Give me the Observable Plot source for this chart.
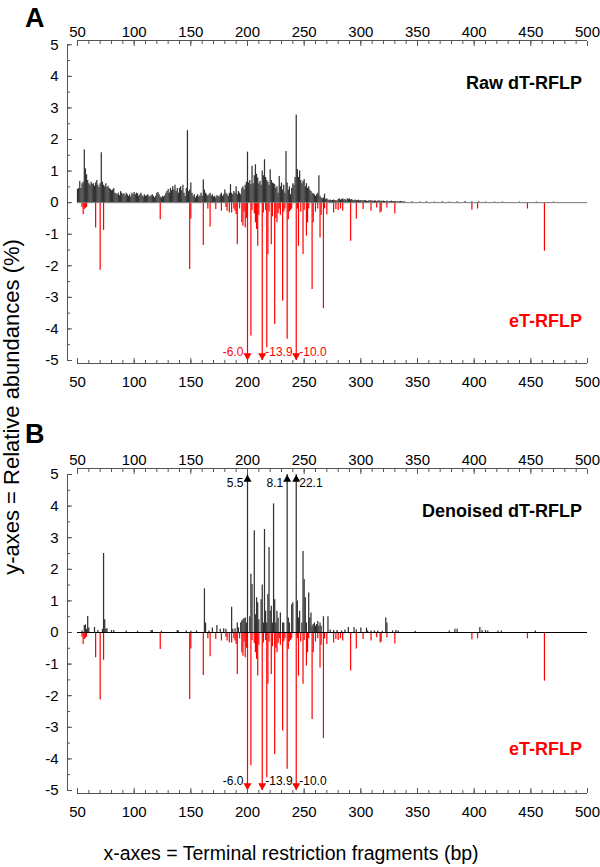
<!DOCTYPE html>
<html><head><meta charset="utf-8">
<script src="https://cdn.jsdelivr.net/npm/d3@7"></script>
<script src="https://cdn.jsdelivr.net/npm/@observablehq/plot@0.6"></script>
<style>
body{margin:0;background:#fff;}
#root{position:relative;width:600px;height:867px;overflow:hidden;font-family:"Liberation Sans",Arial,sans-serif;}
#root > svg{position:absolute;left:0;}
</style></head><body><div id="root"></div>
<script>
// ---------- DATA ----------
// x-axis tick labels (bp)
const xTickLabels = [50, 100, 150, 200, 250, 300, 350, 400, 450, 500];
const xMinorTicks = d3.range(50, 501, 10);
const yTickLabels = [-5, -4, -3, -2, -1, 0, 1, 2, 3, 4, 5];
const yMinorTicks = d3.range(-5, 5.01, 0.5);

// Raw dT-RFLP relative abundances (%), one value per bp starting at rawStartBp
const rawStartBp = 50;
const rawValues = [
  0.42,0.45,0.67,0.45,0.6,0.65,1.67,1.07,0.88,0.7,
  0.6,0.55,0.65,0.58,0.6,0.52,0.62,0.7,0.55,0.48,
  0.6,1.58,0.65,0.55,0.5,0.6,0.48,0.52,0.45,0.42,
  0.38,0.4,0.45,0.3,0.28,0.25,0.3,0.22,0.35,0.3,
  0.25,0.28,0.22,0.3,0.25,0.2,0.25,0.18,0.3,0.25,
  0.32,0.25,0.3,0.28,0.2,0.25,0.3,0.22,0.18,0.25,
  0.2,0.22,0.25,0.2,0.18,0.22,0.25,0.2,0.15,0.2,
  0.3,0.32,0.25,0.18,0.15,0.2,0.18,0.22,0.3,0.35,
  0.42,0.3,0.45,0.38,0.5,0.4,0.55,0.35,0.45,0.3,
  0.45,0.5,0.38,0.55,0.3,0.2,0.45,2.28,0.35,0.4,
  0.62,0.3,0.2,0.25,0.15,0.2,0.25,0.18,0.22,0.3,
  0.2,0.72,0.4,0.3,0.25,0.2,0.25,0.3,0.2,0.25,
  0.18,0.2,0.15,0.22,0.2,0.18,0.25,0.3,0.2,0.25,
  0.4,0.3,0.25,0.2,0.3,0.57,0.3,0.25,0.35,0.3,
  0.5,0.25,0.35,0.3,0.25,0.45,0.5,0.4,0.55,0.65,
  1.6,0.62,0.7,0.57,1.15,0.6,0.85,1.2,0.9,0.78,
  0.6,0.67,0.55,1.0,0.85,1.36,0.8,0.7,0.65,0.55,
  1.04,0.7,0.62,0.6,0.57,0.45,0.5,0.3,0.83,0.5,
  0.62,0.4,0.55,0.3,1.62,0.62,0.4,0.5,0.25,0.45,
  0.6,0.55,0.8,2.78,1.05,0.8,1.0,0.7,0.6,0.67,
  0.73,0.5,0.6,0.45,0.5,0.4,0.35,0.3,0.28,0.25,
  0.2,0.25,0.3,0.85,0.2,0.15,0.12,0.15,0.27,0.1,
  0.12,0.08,0.07,0.08,0.06,0.07,0.08,0.06,0.07,0.05,
  0.1,0.12,0.08,0.1,0.12,0.08,0.1,0.07,0.12,0.1,
  0.12,0.08,0.1,0.07,0.06,0.08,0.07,0.06,0.08,0.05,
  0.07,0.06,0.05,0.07,0.06,0.05,0.04,0.06,0.05,0.07,
  0.05,0.04,0.06,0.05,0.04,0.05,0.06,0.04,0.05,0.04,
  0.05,0.04,0.03,0.05,0.04,0.03,0.04,0.05,0.03,0.04,
  0.03,0.04,0.03,0.02,0.03,0.04,0.03,0.02,0.03,0.02
];
const rawTailBp  = [345, 352, 358, 365, 372, 378, 385, 392, 398, 404, 410, 418, 425, 440, 455, 470];
const rawTailVal = [0.03,0.02,0.03,0.02,0.03,0.02,0.03,0.04,0.03,0.03,0.02,0.02,0.02,0.02,0.02,0.02];

// eT-RFLP (plotted downward, same in both panels)
const etBp = [54,55,56,57,58,66,70,73,123,149,150,161,165,167,172,177,
  181,182,184,186,188,189,190,191,193,195,196,197,198,199,
  200,203,204,206,207,208,209,210,213,214,216,217,218,219,221,222,224,225,226,227,228,229,231,232,233,235,236,237,238,239,
  243,244,245,247,249,250,252,253,254,257,258,260,262,264,265,267,268,270,
  276,278,280,282,284,291,296,302,309,314,317,318,323,330,398,403,447,462];
const etVal = [-0.15,-0.38,-0.22,-0.18,-0.15,-0.8,-2.14,-0.88,-0.54,-2.12,-0.52,-1.36,-0.2,-0.77,-0.22,-0.27,
  -0.15,-0.27,-0.33,-0.33,-0.2,-0.27,-0.38,-1.33,-0.2,-0.64,-0.75,-0.3,-0.8,-0.5,
  -6.0,-4.22,-0.25,-0.35,-0.64,-0.85,-1.38,-0.4,-13.9,-0.33,-0.25,-4.6,-1.64,-0.3,-1.33,-0.45,-3.86,-0.5,-0.64,-0.35,-0.2,-0.4,-3.12,-0.3,-0.2,-4.33,-0.54,-0.3,-0.25,-0.2,
  -10.0,-0.2,-1.38,-0.3,-1.64,-0.25,-1.06,-0.64,-0.2,-2.75,-0.64,-0.3,-0.2,-1.12,-0.4,-3.36,-0.2,-0.38,
  -0.33,-0.22,-0.25,-0.2,-0.27,-1.22,-0.52,-0.22,-0.27,-0.17,-0.33,-0.3,-0.17,-0.36,-0.24,-0.2,-0.2,-1.54];

// Denoised dT-RFLP
const dnBp = [54,56,57,58,59,60,65,68,72,73,74,75,76,80,82,93,103,115,116,124,138,139,146,150,155,
  162,163,166,169,173,176,179,181,186,187,189,191,192,194,195,196,197,198,199,
  200,202,203,204,206,207,208,209,210,212,213,214,215,216,217,218,219,220,221,222,223,224,225,226,227,229,231,232,
  235,236,237,239,240,243,244,245,246,248,249,250,251,252,254,255,256,257,258,259,260,261,262,263,264,265,267,271,
  273,276,279,283,286,289,294,296,300,305,306,309,312,315,319,322,323,328,331,333,348,378,383,385,405,407,410,412,421,424,454];
const dnVal = [0.05,0.22,0.24,0.1,0.51,0.14,0.16,0.06,0.1,2.5,0.4,0.1,0.12,0.06,0.06,0.05,0.04,0.06,0.06,0.04,0.06,0.05,0.05,0.04,0.05,
  1.38,0.3,0.05,0.14,0.22,0.1,0.12,0.1,0.8,0.1,0.12,0.3,0.15,0.3,0.37,0.4,0.44,0.46,0.3,
  5.5,0.5,1.84,1.52,3.22,0.56,1.1,0.94,0.4,1.04,1.5,0.3,3.26,0.67,0.3,1.2,2.69,0.67,0.83,0.3,4.07,1.04,0.3,0.67,0.45,0.62,0.3,0.3,
  8.1,0.46,0.3,0.88,0.94,22.1,1.0,0.46,0.67,0.3,2.56,1.68,1.1,0.3,1.25,0.46,0.62,0.2,0.25,0.3,0.2,0.25,0.35,0.2,0.3,0.2,0.5,0.5,
  0.08,0.06,0.06,0.05,0.08,0.16,0.16,0.08,0.14,0.14,0.05,0.05,0.05,0.05,0.04,0.46,0.3,0.05,0.06,0.05,0.04,0.05,0.1,0.1,0.16,0.06,0.06,0.05,0.05,0.05,0.05];

// ---------- BUILD ----------
const raw = rawValues.map((v, i) => ({bp: rawStartBp + i, v}))
  .concat(rawTailBp.map((bp, i) => ({bp, v: rawTailVal[i]})));
const et = etBp.map((bp, i) => ({bp, v: etVal[i]}));
const dn = dnBp.map((bp, i) => ({bp, v: dnVal[i]}));

const FONT = "Liberation Sans, Arial, Helvetica, sans-serif";
const RED = "#ff0000";
const xDomain = [41.18, 500];
const clamp = v => Math.max(-5, Math.min(5, v));

function panel(black, red, yMax, marginBottom, baseColor, labelColor, leftLabels) {
  const yDomain = [-5.095, yMax];
  const clippedB = black.filter(d => Math.abs(d.v) > 5);
  const clippedR = red.filter(d => Math.abs(d.v) > 5);
  const clippedAll = clippedB.map(d => ({...d, col: "#000"})).concat(clippedR.map(d => ({...d, col: RED})));
  const up = clippedAll.filter(d => d.v > 0), down = clippedAll.filter(d => d.v < 0);
  const lbl = clippedAll.filter(d => leftLabels.includes(d.bp)), lbr = clippedAll.filter(d => !leftLabels.includes(d.bp));
  const lblY = d => Math.sign(d.v) * 4.72;
  const axisStyle = {stroke: "#555", fill: "#000"};
  return Plot.plot({
    width: 600, height: 400,
    marginTop: 40, marginBottom, marginLeft: 67, marginRight: 13,
    x: {domain: xDomain, label: null},
    y: {domain: yDomain, label: null},
    style: {fontFamily: FONT, fontSize: "15px", background: "transparent", overflow: "visible"},
    marks: [
      Plot.ruleX(red, {x: "bp", y1: 0, y2: d => clamp(d.v), stroke: RED, strokeWidth: 1.2}),
      Plot.ruleX(black, {x: "bp", y1: 0, y2: d => clamp(d.v), stroke: "#333", strokeWidth: 1.25}),
      Plot.ruleY([0], {x1: 50, x2: 500, stroke: baseColor, strokeWidth: 1}),
      Plot.dot(up, {x: "bp", y: 5, symbol: "triangle", r: 3, fill: "col", stroke: null, dy: 5}),
      Plot.dot(down, {x: "bp", y: -5, symbol: "triangle", r: 3, fill: "col", stroke: null, rotate: 180, dy: -5}),
      Plot.text(lbl, {x: "bp", y: lblY, text: d => d.v.toFixed(1), textAnchor: "end", dx: -4, fill: labelColor, fontSize: 12, lineAnchor: "middle"}),
      Plot.text(lbr, {x: "bp", y: lblY, text: d => d.v.toFixed(1), textAnchor: "start", dx: 3, fill: labelColor, fontSize: 12, lineAnchor: "middle"}),
      // axis lines
      Plot.ruleY([yDomain[1]], {x1: 50, x2: 500, stroke: "#555"}),
      Plot.ruleY([yDomain[0]], {x1: 50, x2: 500, stroke: "#555"}),
      Plot.ruleX([xDomain[0]], {y1: -5, y2: 5, stroke: "#555"}),
      Plot.axisX(xTickLabels, {anchor: "top", tickSize: -5, tickPadding: 9, tickFormat: d => String(d), label: null, ...axisStyle}),
      Plot.axisX(xMinorTicks, {anchor: "top", tickSize: -3, tickFormat: () => "", label: null, ...axisStyle}),
      Plot.axisX(xTickLabels, {anchor: "bottom", tickSize: -5, tickPadding: 18, tickFormat: d => String(d), label: null, ...axisStyle}),
      Plot.axisX(xMinorTicks, {anchor: "bottom", tickSize: -3, tickFormat: () => "", label: null, ...axisStyle}),
      Plot.axisY(yTickLabels, {anchor: "left", tickSize: -5, tickPadding: 14, tickFormat: d => String(d), label: null, ...axisStyle}),
      Plot.axisY(yMinorTicks, {anchor: "left", tickSize: -3, tickFormat: () => "", label: null, ...axisStyle})
    ]
  });
}

const root = document.getElementById("root");
const pA = panel(raw, et, 5.136, 37, "#777", RED, [200]);
pA.style.top = "0px";
root.appendChild(pA);
const pB = panel(dn, et, 5.19, 35, "#000", "#000", [200, 235]);
pB.style.top = "428px";
root.appendChild(pB);

// Annotation overlay (titles, panel letters, axis titles)
const ov = d3.create("svg").attr("width", 600).attr("height", 867)
  .style("top", "0px").style("pointer-events", "none").style("font-family", FONT);
const txt = (s, x, y, size, weight, fill, anchor) => ov.append("text").text(s)
  .attr("x", x).attr("y", y).attr("font-size", size).attr("font-weight", weight)
  .attr("fill", fill).attr("text-anchor", anchor);
txt("A", 25, 27, 27, "bold", "#000", "start");
txt("B", 25, 443, 27, "bold", "#000", "start");
txt("Raw dT-RFLP", 582, 89, 18, "bold", "#000", "end");
txt("eT-RFLP", 582, 327, 18, "bold", RED, "end");
txt("Denoised dT-RFLP", 582, 517, 18, "bold", "#000", "end");
txt("eT-RFLP", 582, 755, 18, "bold", RED, "end");
txt("x-axes = Terminal restriction fragments (bp)", 291, 860, 19.5, "normal", "#000", "middle");
ov.append("text").text("y-axes = Relative abundances (%)")
  .attr("transform", "translate(19,407) rotate(-90)")
  .attr("font-size", 22).attr("text-anchor", "middle").attr("fill", "#000");
root.appendChild(ov.node());
</script></body></html>
